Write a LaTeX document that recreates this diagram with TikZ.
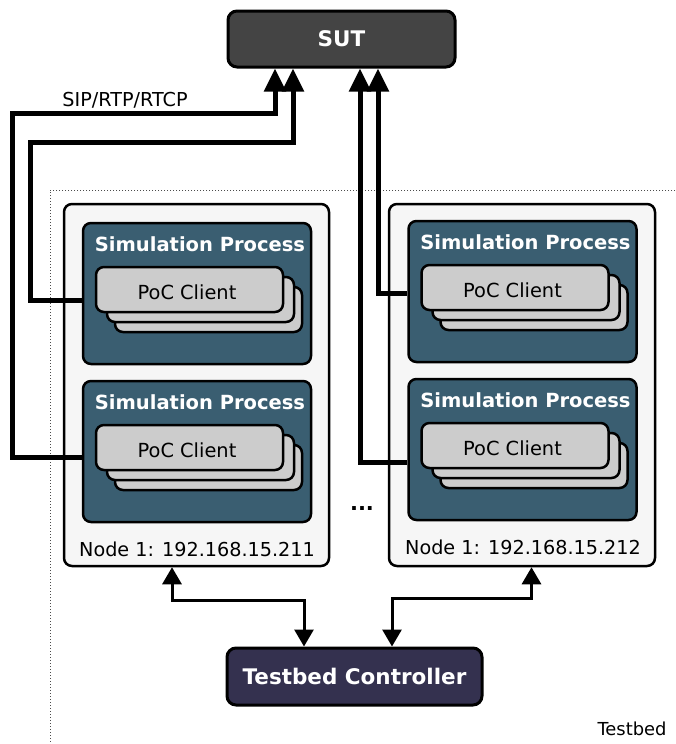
\documentclass[tikz,border=0pt]{standalone}
\usepackage{fontspec}
\setmainfont{DejaVu Sans}
\usetikzlibrary{arrows.meta}
\definecolor{sutgray}{HTML}{444444}
\definecolor{simblue}{HTML}{3A5E71}
\definecolor{ctrlblue}{HTML}{34314F}
\definecolor{nodegray}{HTML}{F6F6F6}
\definecolor{pocgray}{HTML}{CCCCCC}
\begin{document}
\begin{tikzpicture}[x=1pt,y=-1pt,
  darkbox/.style={draw=black, line width=3pt, rounded corners=9pt, text=white,
    font=\bfseries\fontsize{21.5}{24}\selectfont, inner sep=0pt},
  nodebox/.style={draw=black, line width=2.5pt, rounded corners=8pt, fill=nodegray,
    minimum height=362pt, inner sep=0pt},
  simbox/.style={draw=black, line width=2.5pt, rounded corners=8pt, fill=simblue,
    minimum width=228pt, minimum height=141pt, inner sep=0pt},
  simtitle/.style={text=white, font=\bfseries\fontsize{19.5}{22}\selectfont, inner sep=0pt},
  pocbox/.style={draw=black, line width=2.5pt, rounded corners=8pt, fill=pocgray,
    minimum width=187pt, minimum height=45pt, inner sep=0pt},
  poctext/.style={font=\fontsize{19.4}{22}\selectfont, inner sep=0pt},
  plain/.style={font=\fontsize{19.2}{22}\selectfont, inner sep=0pt},
  sipline/.style={line width=5pt, -{Triangle[width=21pt,length=23pt]}},
  ctrlline/.style={line width=3pt, {Triangle[width=19pt,length=17pt]}-{Triangle[width=19pt,length=17pt]}}]
\useasboundingbox (0,0) rectangle (675,744);

% testbed area
\draw[dotted, line width=1pt, black!70] (675,190) -- (50,190) -- (50,744);
\node[plain, font=\fontsize{17.9}{20}\selectfont] (testbed) at (632,729) {Testbed};

% system under test and controller
\node[darkbox, fill=sutgray, minimum width=227pt, minimum height=56pt] (sut) at (341.5,39) {SUT};
\node[darkbox, fill=ctrlblue, minimum width=255pt, minimum height=57pt] (ctrl) at (354.5,676.5) {Testbed Controller};

% nodes
\node[nodebox, minimum width=265pt] (nodeL) at (196.5,385) {};
\node[nodebox, minimum width=266pt] (nodeR) at (522,385) {};
\node[plain] (ipL) at (197,549) {Node 1: 192.168.15.211};
\node[plain] (ipR) at (523,547) {Node 1: 192.168.15.212};
\node[plain, font=\bfseries\fontsize{21}{24}\selectfont] (dots) at (362,509) {...};

% simulation processes with client stacks
\foreach \n/\x/\y in {LT/197/293.5, LB/197/451.5, RT/522.5/291.5, RB/522.5/449.5} {
  \node[simbox] (sim\n) at (\x,\y) {};
  \node[simtitle] (title\n) at ([xshift=3pt,yshift=-22.5pt]sim\n.north) {Simulation Process};
  \coordinate (pocc\n) at ([xshift=-7.5pt,yshift=4pt]sim\n.center);
  \node[pocbox] (backB\n) at ([xshift=19pt,yshift=-20pt]pocc\n) {};
  \node[pocbox] (backA\n) at ([xshift=11pt,yshift=-10pt]pocc\n) {};
  \node[pocbox] (poc\n) at (pocc\n) {};
  \node[poctext] (pocname\n) at ([xshift=-2.5pt,yshift=-2.5pt]pocc\n) {PoC Client};
}

% media streams to the SUT
\draw[sipline] ([yshift=-6pt]simLB.west) -| (12.5,113) -| ([xshift=-66.5pt]sut.south);
\draw[sipline] ([yshift=-6.5pt]simLT.west) -| (30,142.5) -| ([xshift=-48.5pt]sut.south);
\draw[sipline] ([yshift=-12.5pt]simRB.west) -| ([xshift=18.5pt]sut.south);
\draw[sipline] ([yshift=-1.5pt]simRT.west) -| ([xshift=36.5pt]sut.south);
\node[plain] (sip) at (125,100) {SIP/RTP/RTCP};

% control links
\draw[ctrlline] ([xshift=-24.5pt]nodeL.south) -- ++(0,33) -| ([xshift=-50.5pt]ctrl.north);
\draw[ctrlline] ([xshift=9.5pt]nodeR.south) -- ++(0,31) -| ([xshift=37.5pt]ctrl.north);
\end{tikzpicture}
\end{document}
